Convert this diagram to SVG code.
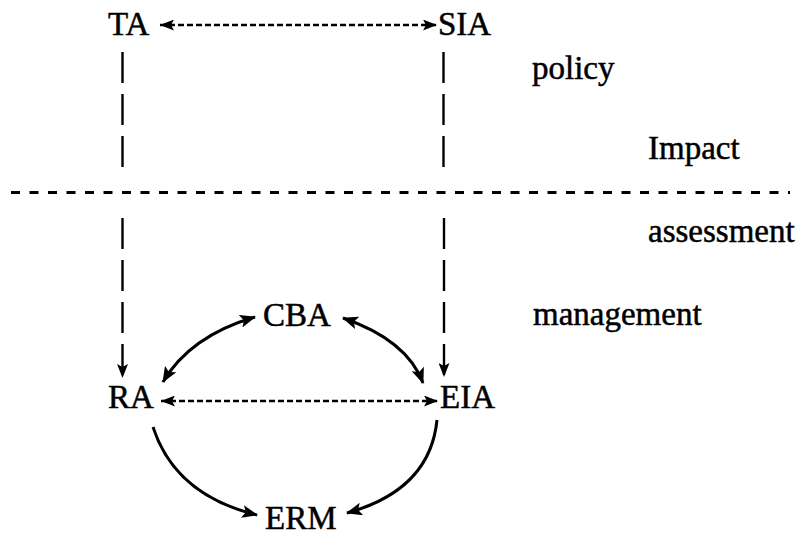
<svg xmlns="http://www.w3.org/2000/svg" width="804" height="536" viewBox="0 0 804 536">
  <defs>
    <marker id="head" viewBox="0 0 14 11" refX="14" refY="5.5" markerWidth="14" markerHeight="11" markerUnits="userSpaceOnUse" orient="auto-start-reverse">
      <path d="M0,0 L14,5.5 L0,11 L3,5.5 Z" fill="#000"/>
    </marker>
    <marker id="headL" viewBox="0 0 16 13" refX="15" refY="6.5" markerWidth="16" markerHeight="13" markerUnits="userSpaceOnUse" orient="auto-start-reverse">
      <path d="M0,0 L16,6.5 L0,13 L3.5,6.5 Z" fill="#000"/>
    </marker>
  </defs>
  <style>
    .lbl { font-family: "Liberation Serif", "Times New Roman", serif; font-size: 33px; fill: #000; stroke: #000; stroke-width: 0.5; }
    .dash-h { stroke: #000; stroke-width: 2.5; fill: none; stroke-dasharray: 6 3; }
    .dash-v { stroke: #000; stroke-width: 2.4; fill: none; stroke-dasharray: 31 11; }
    .sep { stroke: #000; stroke-width: 3; fill: none; stroke-dasharray: 9 9.5; }
    .curve { stroke: #000; stroke-width: 3; fill: none; }
  </style>
  <rect width="804" height="536" fill="#fff"/>

  <!-- level divider -->
  <line class="sep" x1="11" y1="192.5" x2="790" y2="192.5"/>

  <!-- level captions -->
  <g id="captions">
    <text class="lbl" x="532" y="79">policy</text>
    <text class="lbl" x="648" y="159">Impact</text>
    <text class="lbl" x="648" y="242">assessment</text>
    <text class="lbl" x="533" y="325">management</text>
  </g>

  <!-- nodes -->
  <g id="node-TA"><text class="lbl" x="108" y="35">TA</text></g>
  <g id="node-SIA"><text class="lbl" x="438" y="35">SIA</text></g>
  <g id="node-CBA"><text class="lbl" x="263" y="326">CBA</text></g>
  <g id="node-RA"><text class="lbl" x="108" y="408">RA</text></g>
  <g id="node-EIA"><text class="lbl" x="440" y="408">EIA</text></g>
  <g id="node-ERM"><text class="lbl" x="265" y="529">ERM</text></g>

  <!-- connectors -->
  <g id="connectors">
    <!-- TA <-> SIA -->
    <line class="dash-h" x1="160" y1="25" x2="437" y2="25" marker-start="url(#head)" marker-end="url(#head)"/>
    <!-- TA -> RA -->
    <line class="dash-v" x1="122.5" y1="52" x2="122.5" y2="167"/>
    <line class="dash-v" x1="122.5" y1="218" x2="122.5" y2="378" marker-end="url(#head)"/>
    <!-- SIA -> EIA -->
    <line class="dash-v" x1="443.5" y1="52" x2="443.5" y2="167"/>
    <line class="dash-v" x1="444" y1="218" x2="444" y2="377" marker-end="url(#head)"/>
    <!-- RA <-> EIA -->
    <line class="dash-h" x1="161" y1="401" x2="438" y2="401" marker-start="url(#head)" marker-end="url(#head)"/>
    <!-- RA <-> CBA -->
    <path class="curve" d="M163,382 Q190,336 255,317" marker-start="url(#headL)" marker-end="url(#headL)"/>
    <!-- CBA <-> EIA -->
    <path class="curve" d="M343,318 Q407,340 423,383" marker-start="url(#headL)" marker-end="url(#headL)"/>
    <!-- RA -> ERM -->
    <path class="curve" d="M153,427 Q175,495 257,515" marker-end="url(#headL)"/>
    <!-- EIA -> ERM -->
    <path class="curve" d="M437,420 Q430,490 347,513" marker-end="url(#headL)"/>
  </g>
</svg>
